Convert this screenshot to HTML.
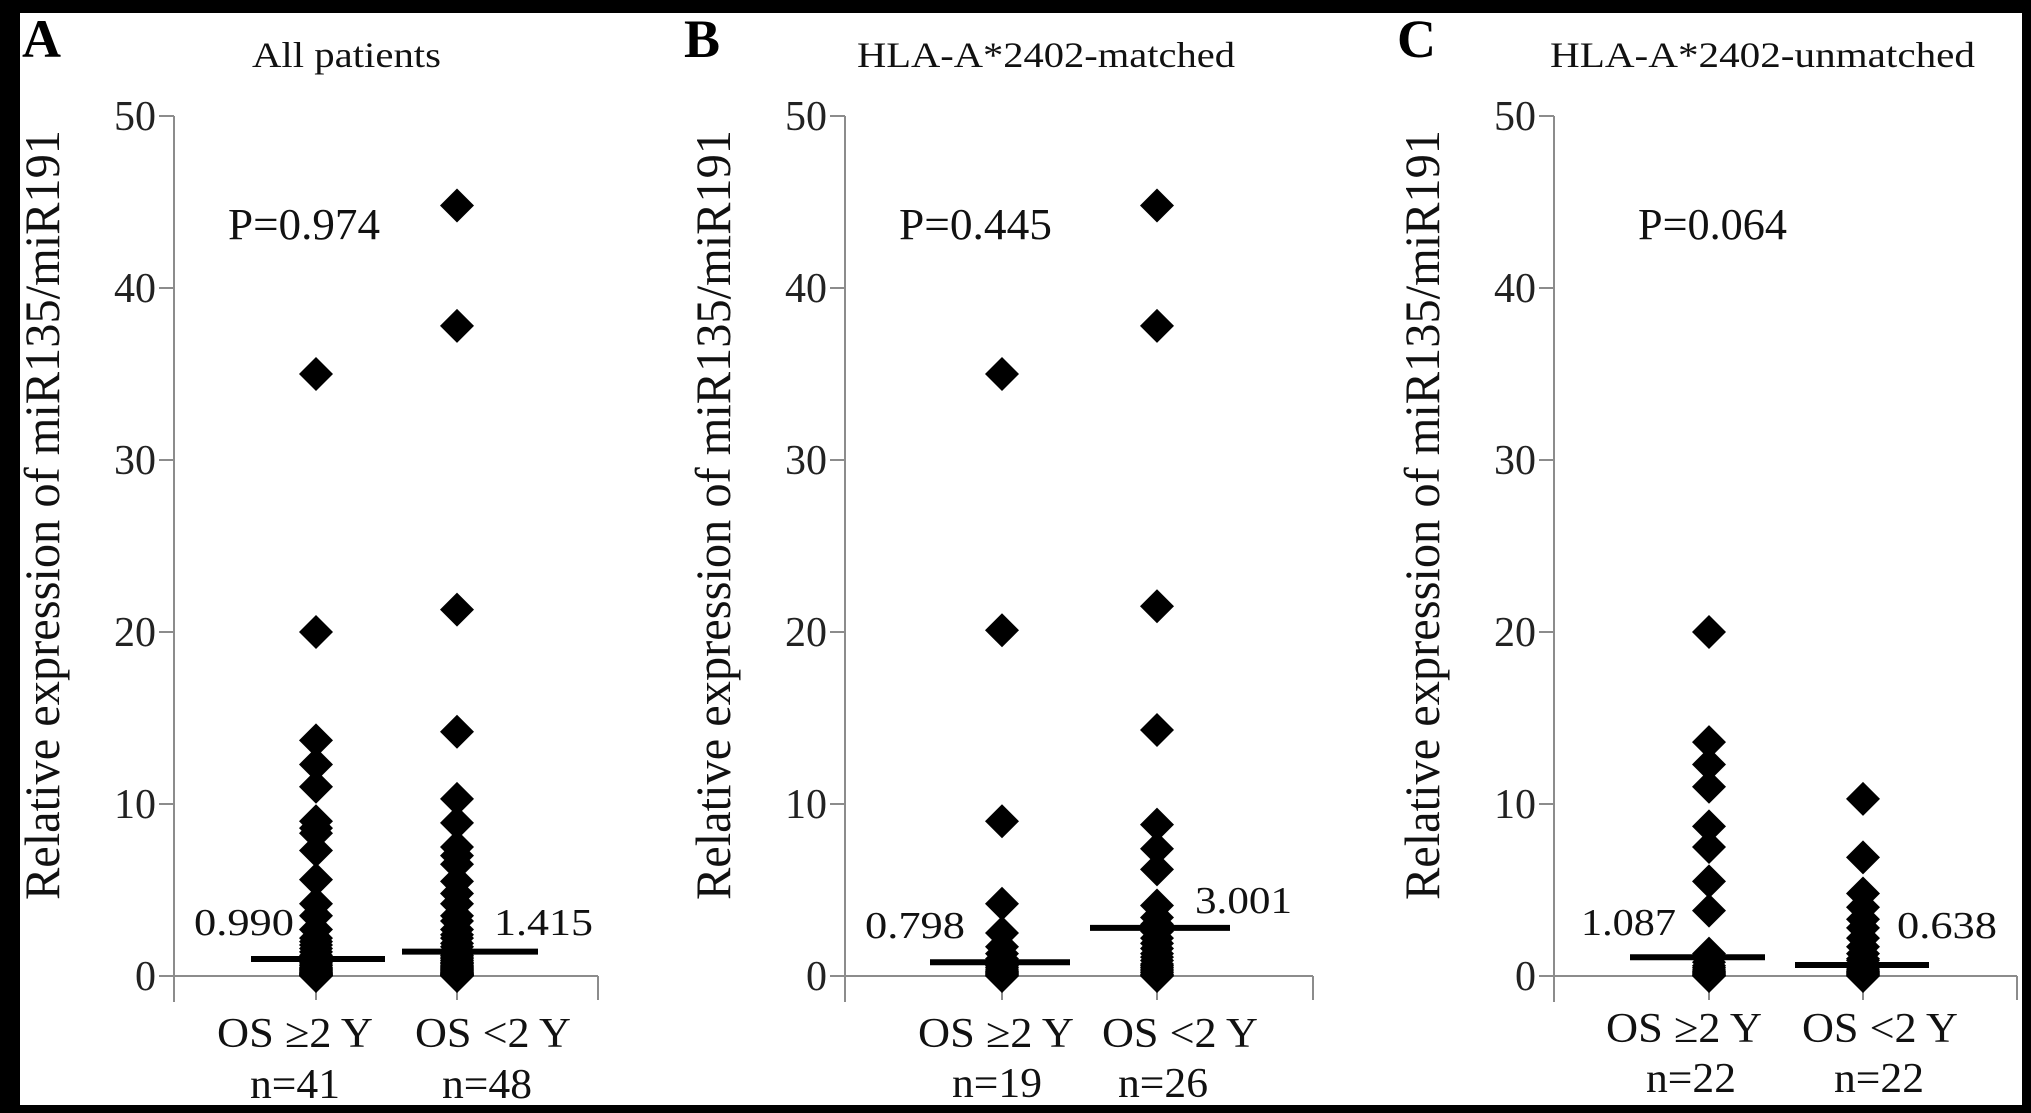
<!DOCTYPE html>
<html><head><meta charset="utf-8"><style>
html,body{margin:0;padding:0;background:#000;}
svg{display:block;font-family:"Liberation Serif",serif;}
</style></head><body>
<svg id="chart" width="2031" height="1113" viewBox="0 0 2031 1113" xmlns="http://www.w3.org/2000/svg">
<rect x="0" y="0" width="2031" height="1113" fill="#000"/>
<rect x="20" y="13" width="2002" height="1092" fill="#fff"/>
</svg>
<script>
const yTicks = [0, 10, 20, 30, 40, 50];
const panelLetters = ["A", "B", "C"];
const panelTitles = ["All patients", "HLA-A*2402-matched", "HLA-A*2402-unmatched"];
const pValues = ["P=0.974", "P=0.445", "P=0.064"];
const categories = ["OS \u22652 Y", "OS <2 Y"];
const nLabels = [["n=41", "n=48"], ["n=19", "n=26"], ["n=22", "n=22"]];
const meanLabels = [["0.990", "1.415"], ["0.798", "3.001"], ["1.087", "0.638"]];
const meanValues = [[0.99, 1.415], [0.798, 2.8], [1.087, 0.638]];
const aG1 = [35, 20, 13.7, 12.3, 11, 9, 8.6, 8.3, 7.3, 5.6, 4.2, 3.5, 2.7, 2.2, 2, 1.8, 1.6, 1.4, 1.2, 1.1, 1, 0.9, 0.8, 0.7, 0.6, 0.5, 0.45, 0.4, 0.35, 0.3, 0.25, 0.2, 0.18, 0.15, 0.12, 0.1, 0.08, 0.05, 0.03, 0.02, 0];
const aG2 = [44.8, 37.8, 21.3, 14.2, 10.3, 8.9, 7.5, 7, 6.5, 5.5, 4.8, 4.2, 3.5, 3.2, 2.7, 2.4, 2.2, 1.9, 1.7, 1.5, 1.4, 1.3, 1.2, 1.1, 1, 0.9, 0.8, 0.75, 0.7, 0.6, 0.55, 0.5, 0.45, 0.4, 0.35, 0.3, 0.25, 0.2, 0.18, 0.15, 0.12, 0.1, 0.08, 0.06, 0.05, 0.03, 0.02, 0];
const bG1 = [35, 20.1, 9, 4.2, 2.5, 1.7, 1.3, 1, 0.8, 0.6, 0.5, 0.4, 0.3, 0.25, 0.2, 0.15, 0.1, 0.05, 0];
const bG2 = [44.8, 37.8, 21.5, 14.3, 8.8, 7.4, 6.2, 4.1, 3.4, 3, 2.6, 2.2, 1.9, 1.6, 1.3, 1.1, 0.9, 0.7, 0.6, 0.5, 0.4, 0.3, 0.2, 0.1, 0.05, 0];
const cG1 = [20, 13.6, 12.3, 11, 8.7, 7.5, 5.5, 3.8, 1.3, 1, 0.8, 0.6, 0.5, 0.4, 0.3, 0.25, 0.2, 0.15, 0.1, 0.05, 0.02, 0];
const cG2 = [10.3, 6.9, 4.8, 4, 3.3, 2.8, 2.2, 1.7, 1.3, 1, 0.9, 0.7, 0.6, 0.5, 0.4, 0.3, 0.25, 0.2, 0.15, 0.1, 0.05, 0];
const seriesData = [[aG1, aG2], [bG1, bG2], [cG1, cG2]];

const NS = "http://www.w3.org/2000/svg";
const svg = document.getElementById("chart");
const Y0 = 976, PX_PER_UNIT = 17.2;
function yScale(v) { return Y0 - v * PX_PER_UNIT; }
// layout per panel (pixel geometry)
const layout = [
  {axis: 174, g: [316, 457], end: 598, title: [252, 189], p: [228, 152], letter: 22, catC: [295, 493], nC: [295, 487],
   ml: [[251, 385], [402, 538]], lab: [[194, 100, 935], [494, 99, 935]], catY: 1047, nY: 1098},
  {axis: 845, g: [1002, 1157], end: 1313, title: [857, 378], p: [899, 153], letter: 684, catC: [996, 1180], nC: [997, 1163],
   ml: [[930, 1070], [1090, 1230]], lab: [[865, 100, 938], [1195, 97, 913]], catY: 1047, nY: 1097},
  {axis: 1554, g: [1709, 1863], end: 2017, title: [1550, 425], p: [1638, 149], letter: 1397, catC: [1684, 1880], nC: [1691, 1879],
   ml: [[1630, 1765], [1795, 1929]], lab: [[1581, 95, 935], [1897, 100, 938]], catY: 1042, nY: 1092}
];
function mk(tag, attrs, parent) {
  const el = document.createElementNS(NS, tag);
  for (const k in attrs) el.setAttribute(k, attrs[k]);
  (parent || svg).appendChild(el);
  return el;
}
function txt(str, attrs, parent) {
  const t = mk("text", attrs, parent);
  t.textContent = str;
  return t;
}
layout.forEach((L, pi) => {
  const g = mk("g", {});
  
  
  const letter = txt(panelLetters[pi], {x: L.letter, y: 57, "font-size": 54, "font-weight": "bold", fill: "#000"}, g);
  
  
  const title = txt(panelTitles[pi], {x: L.title[0], y: 67, "font-size": 36, fill: "#111", textLength: L.title[1], lengthAdjust: "spacingAndGlyphs"}, g);
  
  
  // y axis
  const ax = mk("line", {x1: L.axis, y1: yScale(50), x2: L.axis, y2: 1002, stroke: "#8c8c8c", "stroke-width": 2}, g);
  
  
  yTicks.forEach(t => {
    const tk = mk("line", {x1: L.axis - 15, y1: yScale(t), x2: L.axis, y2: yScale(t), stroke: "#8c8c8c", "stroke-width": 2}, g);
    
    
    const tl = txt(String(t), {x: L.axis - 18, y: yScale(t) + 14, "font-size": 42, "text-anchor": "end", fill: "#222"}, g);
    
    
  });
  // x baseline
  const bl = mk("line", {x1: L.axis, y1: Y0, x2: L.end, y2: Y0, stroke: "#8c8c8c", "stroke-width": 2}, g);
  
  
  const et = mk("line", {x1: L.end, y1: Y0, x2: L.end, y2: 1000, stroke: "#8c8c8c", "stroke-width": 2}, g);
  
  
  L.g.forEach(cx => {
    const ct = mk("line", {x1: cx, y1: Y0, x2: cx, y2: 1000, stroke: "#8c8c8c", "stroke-width": 2}, g);
    
    
  });
  // y title
  const yt = txt("Relative expression of miR135/miR191", {x: 0, y: 0, "font-size": 50, fill: "#111", textLength: 770, lengthAdjust: "spacingAndGlyphs",
    transform: "translate(" + (L.axis - 115) + ",900) rotate(-90)"}, g);
  
  
  // p value
  const pv = txt(pValues[pi], {x: L.p[0], y: 239, "font-size": 44, fill: "#111", textLength: L.p[1], lengthAdjust: "spacingAndGlyphs"}, g);
  
  
  // points
  seriesData[pi].forEach((vals, gi) => {
    const cx = L.g[gi];
    vals.forEach(v => {
      const cy = yScale(v);
      const d = mk("polygon", {points: (cx) + "," + (cy - 17) + " " + (cx + 17) + "," + cy + " " + cx + "," + (cy + 17) + " " + (cx - 17) + "," + cy, fill: "#000"}, g);
      
      
    });
  });
  // mean lines + labels
  [0, 1].forEach(gi => {
    const my = yScale(meanValues[pi][gi]);
    const ml = mk("line", {x1: L.ml[gi][0], y1: my, x2: L.ml[gi][1], y2: my, stroke: "#000", "stroke-width": 6}, g);
    
    
    const lb = txt(meanLabels[pi][gi], {x: L.lab[gi][0], y: L.lab[gi][2], "font-size": 38, fill: "#111", textLength: L.lab[gi][1], lengthAdjust: "spacingAndGlyphs"}, g);
    
    
    const cl = txt(categories[gi], {x: L.catC[gi], y: L.catY, "font-size": 42, "text-anchor": "middle", fill: "#111", textLength: 156, lengthAdjust: "spacingAndGlyphs"}, g);
    
    
    const nl = txt(nLabels[pi][gi], {x: L.nC[gi], y: L.nY, "font-size": 42, "text-anchor": "middle", fill: "#111", textLength: 90, lengthAdjust: "spacingAndGlyphs"}, g);
    
    
  });
});
</script>
</body></html>
